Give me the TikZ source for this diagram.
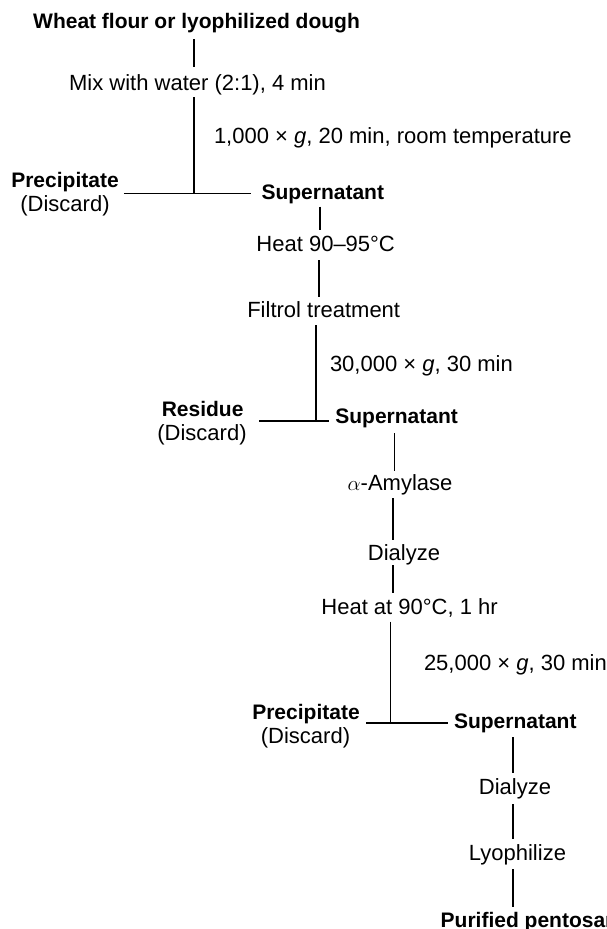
\documentclass[tikz,border=0pt]{standalone}
\usepackage{fontspec}
\setmainfont{Liberation Sans}
\begin{document}
\begin{tikzpicture}[x=1pt,y=1pt,
  every node/.style={inner sep=0pt, outer sep=0pt, text height=15pt, text depth=4pt},
  reg/.style={font=\fontsize{22}{26}\selectfont},
  bld/.style={font=\fontsize{21}{25}\selectfont\bfseries},
  link/.style={line width=1.8pt}]
\useasboundingbox (0,0) rectangle (607,-929);
\clip (0,0) rectangle (607,-929);
% nodes
\node[bld, anchor=base] (title) at (196.5,-28) {Wheat flour or lyophilized dough};
\node[reg, anchor=base] (mix) at (197.5,-90.5) {Mix with water (2:1), 4 min};
\node[reg, anchor=base west] (cf1) at (214,-143) {1,000 × \textit{g}, 20 min, room temperature};
\coordinate (j1) at (194,-193.5);
\node[bld, anchor=base] (prec1) at (65,-187) {Precipitate};
\node[reg, anchor=base] (disc1) at (65,-211) {(Discard)};
\node[bld, anchor=base west] (sup1) at (261.5,-199) {Supernatant};
\node[reg, anchor=base] (heat1) at (325.7,-251.7) {Heat 90–95°C};
\node[reg, anchor=base] (filt) at (323.7,-317.7) {Filtrol treatment};
\node[reg, anchor=base west] (cf2) at (330,-371.7) {30,000 × \textit{g}, 30 min};
\coordinate (j2) at (316,-420.7);
\node[bld, anchor=base] (res) at (202.6,-416.7) {Residue};
\node[reg, anchor=base] (disc2) at (202,-440) {(Discard)};
\node[bld, anchor=base west] (sup2) at (335.4,-423) {Supernatant};
\node[reg, anchor=base] (amyl) at (400,-490) {$\alpha$-Amylase};
\node[reg, anchor=base] (dial1) at (404,-560) {Dialyze};
\node[reg, anchor=base] (heat2) at (409.6,-614) {Heat at 90°C, 1 hr};
\node[reg, anchor=base west] (cf3) at (424,-670) {25,000 × \textit{g}, 30 min};
\coordinate (j3) at (390.5,-723.3);
\node[bld, anchor=base] (prec3) at (306,-719) {Precipitate};
\node[reg, anchor=base] (disc3) at (305.5,-743) {(Discard)};
\node[bld, anchor=base west] (sup3) at (454,-728.3) {Supernatant};
\node[reg, anchor=base] (dial2) at (515,-794) {Dialyze};
\node[reg, anchor=base] (lyo) at (517.5,-860) {Lyophilize};
\node[bld, anchor=base west] (pur) at (440.7,-927) {Purified pentosan};
% trunk x positions
\coordinate (s1) at (320,0);
\coordinate (s2) at (319,0);
\coordinate (s3) at (394.5,0);
\coordinate (s4) at (393,0);
\coordinate (s5) at (513.3,0);
% connectors
\draw[link, shorten <=7pt, shorten >=8.5pt] (title.south -| j1) -- (mix.north -| j1);
\draw[link, shorten <=2.5pt] (mix.south -| j1) -- (j1);
\draw[link, shorten <=5.3pt, shorten >=10.5pt] (prec1.east |- j1) -- (sup1.west |- j1);
\draw[link, shorten <=3.7pt, shorten >=6.7pt] (sup1.south -| s1) -- (heat1.north -| s1);
\draw[link, shorten <=4.3pt, shorten >=6pt] (heat1.south -| s2) -- (filt.north -| s2);
\draw[link, shorten <=3.3pt] (filt.south -| j2) -- (j2);
\draw[link, shorten <=15.8pt, shorten >=6.6pt] (res.east |- j2) -- (sup2.west |- j2);
\draw[link, shorten <=6pt, shorten >=4.3pt] (sup2.south -| s3) -- (amyl.north -| s3);
\draw[link, shorten <=4pt, shorten >=5pt] (amyl.south -| s4) -- (dial1.north -| s4);
\draw[link, shorten <=1pt, shorten >=6pt] (dial1.south -| s4) -- (heat2.north -| s4);
\draw[link, shorten <=3.7pt] (heat2.south -| j3) -- (j3);
\draw[link, shorten <=6.7pt, shorten >=5.7pt] (prec3.east |- j3) -- (sup3.west |- j3);
\draw[link, shorten <=4.7pt, shorten >=6pt] (sup3.south -| s5) -- (dial2.north -| s5);
\draw[link, shorten <=6pt, shorten >=6pt] (dial2.south -| s5) -- (lyo.north -| s5);
\draw[link, shorten <=5pt, shorten >=5.3pt] (lyo.south -| s5) -- (pur.north -| s5);
\end{tikzpicture}
\end{document}
